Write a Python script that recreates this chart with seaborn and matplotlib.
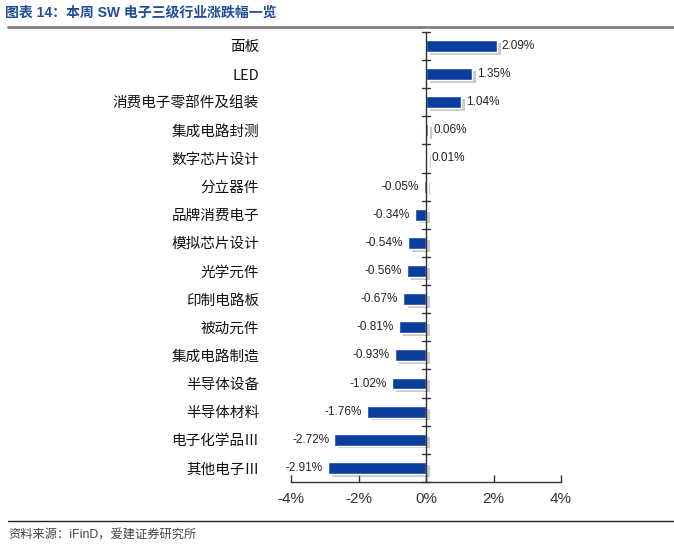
import matplotlib
matplotlib.use("Agg")
import matplotlib.pyplot as plt
import matplotlib.patheffects as pe
from matplotlib.ticker import FuncFormatter
import seaborn as sns

categories = ["面板", "LED", "消费电子零部件及组装", "集成电路封测", "数字芯片设计",
              "分立器件", "品牌消费电子", "模拟芯片设计", "光学元件", "印制电路板",
              "被动元件", "集成电路制造", "半导体设备", "半导体材料", "电子化学品Ⅲ", "其他电子Ⅲ"]
values = [2.09, 1.35, 1.04, 0.06, 0.01, -0.05, -0.34, -0.54, -0.56, -0.67,
          -0.81, -0.93, -1.02, -1.76, -2.72, -2.91]
x_ticks = [-4, -2, 0, 2, 4]

sns.set_theme(style="white")
plt.rcParams["font.family"] = ["Liberation Sans", "Noto Sans CJK SC", "DejaVu Sans"]

fig = plt.figure(figsize=(6.74, 5.51), dpi=100)
ax = fig.add_axes([0.4318, 0.1252, 0.4006, 0.817])

sns.barplot(x=values, y=categories, orient="h", color="#0b3d9e", width=0.42,
            saturation=1, ax=ax)
for p in ax.patches:
    p.set_path_effects([pe.SimplePatchShadow(offset=(3, -2), shadow_rgbFace="#8a8a8a", alpha=0.45),
                        pe.Normal()])

for i, v in enumerate(values):
    if v >= 0:
        ax.text(v + 0.15, i, f"{v:.2f}%", va="center", ha="left", fontsize=8.5, color="#222222")
    else:
        ax.text(v - 0.15, i, f"{v:.2f}%", va="center", ha="right", fontsize=8.5, color="#222222")

n = len(categories)
ax.set_xlim(-4, 4)
ax.set_ylim(n - 0.5, -0.5)
ax.set_xticks(x_ticks)
ax.xaxis.set_major_formatter(FuncFormatter(lambda v, _: f"{v:.0f}%"))
ax.tick_params(axis="x", direction="in", length=5, width=1, colors="#333333",
               labelsize=11, pad=7, bottom=True)
ax.tick_params(axis="y", length=0, labelsize=10.5, pad=23, colors="#111111")
for lab in ax.get_yticklabels():
    lab.set_family(["Noto Sans CJK SC", "DejaVu Sans"])

for s in ["top", "right", "left"]:
    ax.spines[s].set_visible(False)
ax.spines["bottom"].set_color("#333333")
ax.spines["bottom"].set_linewidth(1)

# zero line with category separators
ax.axvline(0, color="#333333", lw=1, zorder=3)
for k in range(n + 1):
    ax.plot([-0.12, 0.12], [k - 0.5, k - 0.5], color="#333333", lw=1, zorder=3, clip_on=False)
ax.set_xlabel("")
ax.set_ylabel("")

fig.text(0.008, 0.977, "图表 14：本周 SW 电子三级行业涨跌幅一览", fontsize=10,
         fontweight="bold", color="#1f4e9c", va="center", ha="left")
fig.add_artist(plt.Line2D([0.012, 1.0], [0.951, 0.951], color="#7f7f7f", lw=2))
fig.add_artist(plt.Line2D([0.012, 1.0], [0.055, 0.055], color="#222222", lw=1))
fig.text(0.012, 0.029, "资料来源：iFinD，爱建证券研究所", fontsize=8.8, color="#444444",
         va="center", ha="left")

fig.savefig("out.png", dpi=100)
